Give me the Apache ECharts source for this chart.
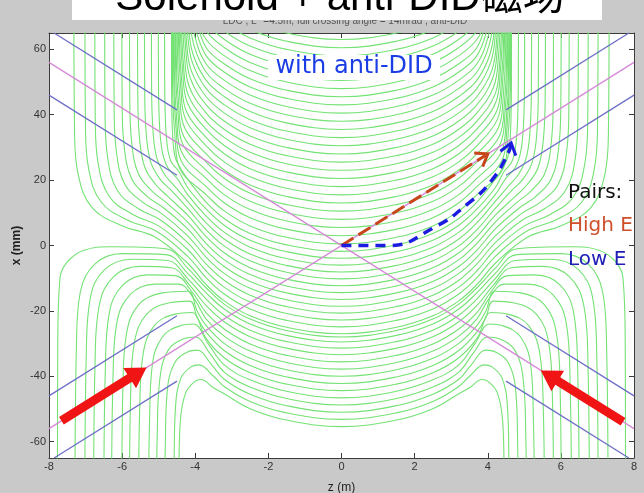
<!DOCTYPE html>
<html><head><meta charset="utf-8">
<script src="https://cdn.jsdelivr.net/npm/echarts@6/dist/echarts.min.js"></script>
<style>html,body{margin:0;padding:0;background:#c9c9c9;}#c{width:644px;height:493px;}</style>
</head><body><div id="c"></div>
<script>
// ---- axis ticks ----
const xTicks = [-8,-6,-4,-2,0,2,4,6,8];
const yTicks = [-60,-40,-20,0,20,40,60];

// ---- field lines: half paths (z<=0), from the centre z=0 outwards; mirrored for z>0 ----
const topLines = [
 [[0,63],[-1.5,65],[-2.5,68.5],[-3.2,73]],
 [[0,60.5],[-1.5,62.5],[-2.5,66],[-3.2,70.5]],
 [[0,58],[-1.5,60],[-2.5,63.5],[-3.2,68],[-3.7,73]],
 [[0,55.5],[-1.5,57.5],[-2.5,61],[-3.2,65.5],[-3.7,70.5]],
 [[0,53],[-1.5,55],[-2.5,58.5],[-3.2,63],[-3.7,68],[-4,74]],
 [[0,50.5],[-1.5,52.5],[-2.5,56],[-3.2,60.5],[-3.7,65.5],[-4,72]],
 [[0,48],[-1.5,50],[-2.5,53.5],[-3.2,58],[-3.7,63],[-4.05,71]],
 [[0,45.5],[-1.5,47.5],[-2.5,51],[-3.2,55.5],[-3.7,60.5],[-3.95,68.5],[-4.08,77]],
 [[0,43],[-1.5,45],[-2.5,48.5],[-3.2,53],[-3.7,58],[-3.98,66],[-4.11,75]],
 [[0,40.5],[-1.5,42.5],[-2.5,46],[-3.2,50.5],[-3.7,55.5],[-4.0,63.5],[-4.13,72.5],[-4.2,88]],
 [[0,38],[-1.5,40],[-2.5,43.5],[-3.2,48],[-3.7,53],[-4.03,61],[-4.16,70],[-4.23,86]],
 [[0,35.5],[-1.5,37.5],[-2.5,41],[-3.2,45.5],[-3.7,50.5],[-4.06,58.5],[-4.19,67.5],[-4.255,83]],
 [[0,33],[-1.5,35],[-2.5,38.5],[-3.2,43],[-3.7,48],[-4.08,56],[-4.21,65],[-4.28,81]],
 [[0,30.5],[-1.5,32.5],[-2.5,36],[-3.2,40.5],[-3.7,45.5],[-4.11,53.5],[-4.24,62.5],[-4.31,78.5]],
 [[0,28],[-1.5,30],[-2.5,33.5],[-3.2,38],[-3.7,43],[-4.13,51],[-4.26,60],[-4.33,76]],
 [[0,25.5],[-1.5,27.5],[-2.5,31],[-3.2,35.5],[-3.7,40.5],[-4.16,48.5],[-4.29,57.5],[-4.36,73.5]],
 [[0,23],[-1.5,25],[-2.5,28.5],[-3.2,33],[-3.7,38],[-4.19,46],[-4.32,55],[-4.39,71]],
 [[0,20.5],[-1.5,22.5],[-2.5,26],[-3.2,30.5],[-3.7,35.5],[-4.21,43.5],[-4.34,52.5],[-4.41,68.5],[-4.415,100]],
 [[0,18],[-1.5,20],[-2.5,23.5],[-3.2,28],[-3.7,33],[-4.24,41],[-4.37,50],[-4.44,66],[-4.445,98]],
 [[0,15.5],[-1.5,17.5],[-2.5,21],[-3.2,25.5],[-3.7,30.5],[-4.26,38.5],[-4.39,47.5],[-4.46,63.5],[-4.47,95]],
 [[0,13],[-1.5,15],[-2.5,18.5],[-3.2,23],[-3.7,28],[-4.29,36],[-4.42,45],[-4.49,61],[-4.495,93]],
 [[0,10.5],[-1.5,12.5],[-2.5,16],[-3.2,20.5],[-3.7,25.5],[-4.32,33.5],[-4.45,42.5],[-4.52,58.5],[-4.525,90]],
 [[0,8],[-1.5,10],[-2.5,13.5],[-3.2,18],[-3.7,23],[-4.34,31],[-4.47,40],[-4.54,56],[-4.545,88]],
 [[0,5.5],[-1.5,7.5],[-2.5,11],[-3.2,15.5],[-3.7,20.5],[-4.37,28.5],[-4.5,37.5],[-4.57,53.5],[-4.575,85]],
 [[0,3],[-1.5,5],[-2.5,8.5],[-3.2,13],[-3.7,18],[-4.39,26],[-4.52,35],[-4.59,51],[-4.6,83]],
 [[0,0.5],[-1.5,2.5],[-2.5,6],[-3.2,10.5],[-3.7,15.5],[-4.42,23.5],[-4.55,32.5],[-4.62,48.5],[-4.625,80]]
];
const passLines = [
 [[0,-1.8],[-1.5,0.2],[-2.5,3.7],[-3.2,8.2],[-3.7,13.2],[-4.1,18.7],[-4.45,24.5],[-4.559,27.5],[-4.615,33],[-4.642,43],[-4.649,56],[-4.65,75]],
 [[0,-3.9],[-1.5,-1.9],[-2.5,1.6],[-3.2,6.1],[-3.7,11.1],[-4.2,17.6],[-4.45,22.7],[-4.663,25.7],[-4.772,31.2],[-4.824,41.2],[-4.837,54.2],[-4.84,75]],
 [[0,-6],[-1.5,-4],[-2.5,-0.5],[-3.2,4],[-3.7,9],[-4.2,15.5],[-4.5,20.6],[-4.756,23.9],[-4.913,29.4],[-4.987,39.4],[-5.006,52.4],[-5.01,75]],
 [[0,-8.1],[-1.5,-6.1],[-2.5,-2.6],[-3.2,1.9],[-3.7,6.9],[-4.2,13.4],[-4.6,18.6],[-4.861,22.1],[-5.07,27.6],[-5.169,37.6],[-5.195,50.6],[-5.2,75]],
 [[0,-10.2],[-1.5,-8.2],[-2.5,-4.7],[-3.2,-0.2],[-3.7,4.8],[-4.2,11.3],[-4.65,16.8],[-4.964,20.3],[-5.226,25.8],[-5.351,35.8],[-5.383,48.8],[-5.39,75]],
 [[0,-12.3],[-1.5,-10.3],[-2.5,-6.8],[-3.2,-2.3],[-3.7,2.7],[-4.2,9.2],[-4.75,15],[-5.068,18.5],[-5.383,24],[-5.533,34],[-5.572,47],[-5.58,75]],
 [[0,-14.4],[-1.5,-12.4],[-2.5,-8.9],[-3.2,-4.4],[-3.7,0.6],[-4.2,7.1],[-4.8,13.2],[-5.189,16.7],[-5.565,22.2],[-5.744,32.2],[-5.791,45.2],[-5.8,75]],
 [[0,-16.5],[-1.5,-14.5],[-2.5,-11],[-3.2,-6.5],[-3.7,-1.5],[-4.2,5],[-4.85,11.4],[-5.303,14.9],[-5.738,20.4],[-5.945,30.4],[-5.999,43.4],[-6.01,75]],
 [[0,-18.6],[-1.5,-16.6],[-2.5,-13.1],[-3.2,-8.6],[-3.7,-3.6],[-4.2,2.9],[-4.9,9.6],[-5.424,13.1],[-5.92,18.6],[-6.156,28.6],[-6.218,41.6],[-6.23,75]],
 [[0,-20.7],[-1.5,-18.7],[-2.5,-15.2],[-3.2,-10.7],[-3.7,-5.7],[-4.2,0.8],[-4.95,7.8],[-5.561,11.3],[-6.127,16.8],[-6.395,26.8],[-6.466,39.8],[-6.48,75]],
 [[0,-22.8],[-1.5,-20.8],[-2.5,-17.3],[-3.2,-12.8],[-3.7,-7.8],[-4.2,-1.3],[-5.0,6],[-5.709,9.5],[-6.35,15],[-6.654,25],[-6.734,38],[-6.75,75]],
 [[0,-24.9],[-1.5,-22.9],[-2.5,-19.4],[-3.2,-14.9],[-3.7,-9.9],[-4.2,-3.4],[-5.05,4.3],[-5.856,7.8],[-6.573,13.3],[-6.913,23.3],[-7.002,36.3],[-7.02,75]],
 [[0,-27],[-1.5,-25],[-2.5,-21.5],[-3.2,-17],[-3.7,-12],[-4.2,-5.5],[-5.1,2.6],[-6.02,6.1],[-6.82,11.6],[-7.2,21.6],[-7.3,34.6],[-7.32,75]]
];
const lowLines = [
 [[0,-28],[-1.5,-26],[-2.5,-22.5],[-3.2,-18],[-3.7,-13],[-4.2,-7],[-4.8,-1.0],[-6.3,-0.4],[-7.06,-1.5],[-7.5,-5],[-7.7,-10],[-7.76,-30],[-7.77,-80]],
 [[0,-29.5],[-1.5,-27.5],[-2.5,-24],[-3.2,-19.5],[-3.7,-14.5],[-4.2,-8.6],[-4.8,-2.8],[-6.0,-2.5],[-6.74,-5.6],[-7.14,-14],[-7.25,-30.6],[-7.29,-80]],
 [[0,-31.4],[-1.5,-29.4],[-2.5,-25.9],[-3.2,-21.4],[-3.7,-16.4],[-4.2,-10.2],[-4.75,-4.6],[-5.75,-4.2],[-6.48,-7.4],[-6.87,-16],[-6.98,-33],[-7.02,-80]],
 [[0,-33.4],[-1.5,-31.4],[-2.5,-27.9],[-3.2,-23.4],[-3.7,-18.4],[-4.15,-12.2],[-4.65,-6.8],[-5.5,-6.4],[-6.23,-9.5],[-6.63,-18.5],[-6.74,-35.5],[-6.78,-80]],
 [[0,-35.6],[-1.5,-33.6],[-2.5,-30.1],[-3.2,-25.6],[-3.7,-20.6],[-4.1,-14],[-4.55,-9.2],[-5.3,-9],[-5.99,-12.2],[-6.36,-21.2],[-6.46,-38.2],[-6.5,-80]],
 [[0,-37.8],[-1.5,-35.8],[-2.5,-32.3],[-3.2,-27.8],[-3.7,-22.5],[-4.05,-16],[-4.45,-11.8],[-5.1,-11.8],[-5.78,-15],[-6.15,-24],[-6.25,-41],[-6.29,-80]],
 [[0,-40],[-1.5,-38],[-2.5,-34.5],[-3.2,-30],[-3.7,-24.5],[-3.95,-20],[-4.2,-14],[-4.9,-14.5],[-5.54,-18],[-5.88,-27],[-5.98,-44],[-6.01,-80]],
 [[0,-42.2],[-1.5,-40.2],[-2.5,-36.7],[-3.2,-32.2],[-3.7,-26.5],[-3.95,-22],[-4.15,-17],[-4.7,-17.5],[-5.33,-21],[-5.67,-30],[-5.77,-47],[-5.8,-80]],
 [[0,-44.4],[-1.5,-42.4],[-2.5,-38.9],[-3.2,-34.4],[-3.7,-28.5],[-4.1,-20.5],[-4.55,-21],[-5.12,-24.5],[-5.43,-33.5],[-5.52,-50.5],[-5.55,-80]],
 [[0,-46.6],[-1.5,-44.6],[-2.5,-41.1],[-3.2,-36.6],[-3.65,-30],[-4.05,-24],[-4.4,-24.5],[-4.9,-28],[-5.18,-37],[-5.25,-54],[-5.28,-80]],
 [[0,-48.8],[-1.5,-46.8],[-2.5,-43.3],[-3.2,-38.8],[-3.6,-33],[-4.0,-28],[-4.3,-28.5],[-4.74,-32],[-4.97,-41],[-5.04,-58],[-5.06,-80]],
 [[0,-51],[-1.5,-49],[-2.5,-45.5],[-3.2,-41],[-3.55,-36.5],[-3.95,-32],[-4.2,-32.5],[-4.57,-36],[-4.77,-45],[-4.82,-62],[-4.84,-80]],
 [[0,-53.2],[-1.5,-51.2],[-2.5,-47.7],[-3.2,-43.2],[-3.5,-40],[-3.9,-36.5],[-4.1,-37],[-4.39,-40.5],[-4.54,-49.5],[-4.58,-66.5],[-4.6,-80]],
 [[0,-55.4],[-1.5,-53.4],[-2.5,-49.9],[-3.2,-45.4],[-3.5,-43.5],[-3.85,-41],[-4.0,-41.5],[-4.26,-45],[-4.41,-54],[-4.45,-71],[-4.46,-80]]
];

// ---- beams (crossing 14 mrad) and beam-pipe / magnet lines ----
const beamLines = [ [[-8,56],[8,-56]], [[-8,-56],[8,56]] ];
const pipeLines = [
 [[-7.86,65],[-4.5,41.5]], [[-8,46],[-4.5,21.5]],
 [[-8,-46],[-4.5,-21.5]], [[-7.86,-65],[-4.5,-41.5]],
 [[4.5,41.5],[7.86,65]], [[4.5,21.5],[8,46]],
 [[4.5,-21.5],[8,-46]], [[4.5,-41.5],[7.86,-65]]
];

// ---- arrows ----
const solidArrows = [ [-7.66,-53.6,-5.33,-37.3], [7.7,-53.9,5.45,-38.2] ];
const highEPath = [[0,0],[4.0,28]];
const lowEPath = [[0,0],[1.26,0],[2.53,5.5],[3.46,12.8],[4.1,19.8],[4.56,28.3],[4.64,31.4]];

// ---- texts ----
const titleText = 'Solenoid + anti-DID磁场';
const subTitleText = 'LDC , L* =4.5m, full crossing angle = 14mrad , anti-DID';
const noteText = 'with anti-DID';
const legendTexts = ['Pairs:', 'High E', 'Low E'];

function fullPath(h){
  const left = h.slice().reverse();
  const right = h.slice(1).map(p => [-p[0], p[1]]);
  return left.concat(right);
}
const GREEN = '#74e274';
const series = [];
topLines.concat(passLines, lowLines).forEach(h => {
  series.push({type:'line', data: fullPath(h), symbol:'none', smooth:0.4, silent:true,
    lineStyle:{color:GREEN, width:1.1}, z:2, clip:true});
});
beamLines.forEach(d => series.push({type:'line', data:d, symbol:'none', silent:true,
  lineStyle:{color:'#d68ad8', width:1.3}, z:3, clip:true}));
pipeLines.forEach(d => series.push({type:'line', data:d, symbol:'none', silent:true,
  lineStyle:{color:'#6e6ec8', width:1.3}, z:3, clip:true}));

series.push({type:'line', data: highEPath, symbol:'none', silent:true,
  lineStyle:{color:'#c8461c', width:3, type:[14,6]}, z:5});
series.push({type:'line', data: lowEPath, symbol:'none', smooth:0.5, silent:true,
  lineStyle:{color:'#1c1ce0', width:3.5, type:[10,7]}, z:5});

const heads = [
  highEPath[highEPath.length-2].concat(highEPath[highEPath.length-1], [0]),
  lowEPath[lowEPath.length-2].concat(lowEPath[lowEPath.length-1], [1])
];
const headColors = ['#c8461c', '#1c1ce0'];
series.push({type:'custom', data: heads, silent:true, z:6,
  renderItem: function(params, api){
    const a = api.coord([api.value(0), api.value(1)]);
    const b = api.coord([api.value(2), api.value(3)]);
    const dx=b[0]-a[0], dy=b[1]-a[1], L=Math.hypot(dx,dy);
    const ux=dx/L, uy=dy/L, nx=-uy, ny=ux, len=11, sp=8;
    return {type:'polyline', shape:{points:[
      [b[0]-ux*len+nx*sp, b[1]-uy*len+ny*sp],[b[0],b[1]],[b[0]-ux*len-nx*sp, b[1]-uy*len-ny*sp]]},
      style:{stroke: headColors[api.value(4)], lineWidth:3, fill:null}};
  }});
series.push({type:'custom', data: solidArrows, silent:true, z:6,
  renderItem: function(params, api){
    const a = api.coord([api.value(0), api.value(1)]);
    const b = api.coord([api.value(2), api.value(3)]);
    const dx=b[0]-a[0], dy=b[1]-a[1], L=Math.hypot(dx,dy);
    const ux=dx/L, uy=dy/L, nx=-uy, ny=ux, w=4.5, hw=12, hl=20;
    const bx=b[0]-ux*hl, by=b[1]-uy*hl;
    return {type:'polygon', shape:{points:[
      [a[0]+nx*w,a[1]+ny*w],[bx+nx*w,by+ny*w],[bx+nx*hw,by+ny*hw],[b[0],b[1]],
      [bx-nx*hw,by-ny*hw],[bx-nx*w,by-ny*w],[a[0]-nx*w,a[1]-ny*w]]},
      style:{fill:'#f01414'}};
  }});

const axisCol = '#3c3c3c';
const chart = echarts.init(document.getElementById('c'), null, {renderer:'canvas'});
chart.setOption({
  animation:false,
  backgroundColor:'#c9c9c9',
  grid:{left:49, right:10, top:33, bottom:35, show:true, backgroundColor:'#ffffff', borderWidth:0,
        containLabel:false, outerBoundsMode:'none'},
  xAxis:[
    {type:'value', min:-8, max:8, interval:2, position:'bottom',
     axisLine:{show:true, onZero:false, lineStyle:{color:axisCol}},
     axisTick:{show:true, inside:true, length:5, lineStyle:{color:axisCol}},
     axisLabel:{color:'#333', fontSize:11, fontFamily:'Liberation Sans', margin:3},
     splitLine:{show:false},
     name:'z (m)', nameLocation:'middle', nameGap:24, nameMoveOverlap:false,
     nameTextStyle:{color:'#222', fontSize:12, fontFamily:'Liberation Sans'}},
    {type:'value', min:-8, max:8, interval:2, position:'top',
     axisLine:{show:true, onZero:false, lineStyle:{color:axisCol}},
     axisTick:{show:true, inside:true, length:5, lineStyle:{color:axisCol}},
     axisLabel:{show:false}, splitLine:{show:false}}
  ],
  yAxis:[
    {type:'value', min:-65, max:65, position:'left',
     axisLine:{show:true, onZero:false, lineStyle:{color:axisCol}},
     axisTick:{show:true, inside:true, length:5, customValues:yTicks, lineStyle:{color:axisCol}},
     axisLabel:{color:'#333', fontSize:11, fontFamily:'Liberation Sans', margin:3, customValues:yTicks},
     splitLine:{show:false},
     name:'x (mm)', nameLocation:'middle', nameGap:26, nameRotate:90, nameMoveOverlap:false,
     nameTextStyle:{color:'#222', fontSize:12, fontWeight:'bold', fontFamily:'Liberation Sans'}},
    {type:'value', min:-65, max:65, position:'right',
     axisLine:{show:true, onZero:false, lineStyle:{color:axisCol}},
     axisTick:{show:true, inside:true, length:5, customValues:yTicks, lineStyle:{color:axisCol}},
     axisLabel:{show:false}, splitLine:{show:false}}
  ],
  series: series,
  graphic:[
    {type:'text', x:345, y:21, z:100, style:{text:subTitleText, font:'10px "Liberation Sans"', fill:'#555', align:'center', verticalAlign:'middle'}},
    {type:'rect', z:101, shape:{x:72, y:0, width:530, height:20}, style:{fill:'#ffffff'}},
    {type:'text', x:340, y:-2, z:102, style:{text:titleText, font:'42px "Liberation Sans", "Noto Sans CJK SC"', fill:'#000', align:'center', verticalAlign:'middle'}},
    {type:'rect', z:100, shape:{x:268, y:55, width:172, height:25}, style:{fill:'#ffffff'}},
    {type:'text', x:354, y:67, z:101, style:{text:noteText, font:'24px "DejaVu Sans"', fill:'#1a3de6', align:'center', verticalAlign:'middle'}},
    {type:'text', x:568, y:193, z:101, style:{text:legendTexts[0], font:'20px "DejaVu Sans"', fill:'#111111', align:'left', verticalAlign:'middle'}},
    {type:'text', x:568, y:226, z:101, style:{text:legendTexts[1], font:'20px "DejaVu Sans"', fill:'#d0502a', align:'left', verticalAlign:'middle'}},
    {type:'text', x:568, y:260, z:101, style:{text:legendTexts[2], font:'20px "DejaVu Sans"', fill:'#2020b8', align:'left', verticalAlign:'middle'}}
  ]
});
</script></body></html>
